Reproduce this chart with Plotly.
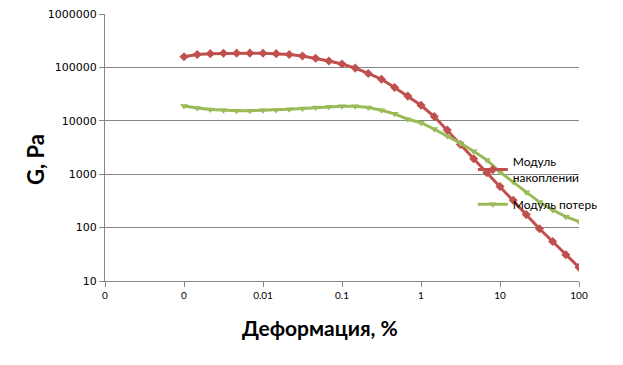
import plotly.graph_objects as go

strain = [0.001, 0.00147, 0.00215, 0.00316, 0.00464, 0.00681, 0.01, 0.0147, 0.0215, 0.0316,
          0.0464, 0.0681, 0.1, 0.147, 0.215, 0.316, 0.464, 0.681, 1, 1.47, 2.15, 3.16,
          4.64, 6.81, 10, 14.7, 21.5, 31.6, 46.4, 68.1, 100]
g_storage = [158000, 174000, 181000, 184000, 185000, 185000, 184000, 181000, 174000, 163000,
             148000, 132000, 116000, 97000, 77000, 60000, 42000, 29000, 19500, 12000, 6700, 3600,
             1950, 1070, 590, 325, 175, 95, 55, 31, 18]
g_loss = [19000, 17300, 16300, 15800, 15500, 15500, 15700, 15900, 16400, 17000,
          17700, 18400, 18700, 18700, 17800, 15800, 13500, 10700, 9200, 7000, 5200, 3800,
          2700, 1850, 1100, 720, 460, 300, 213, 160, 130]

x_tickvals = [0.0001, 0.001, 0.01, 0.1, 1, 10, 100]
x_ticktext = ["0", "0", "0.01", "0.1", "1", "10", "100"]
y_tickvals = [10, 100, 1000, 10000, 100000, 1000000]
y_ticktext = ["10", "100", "1000", "10000", "100000", "1000000"]

fig = go.Figure()
fig.add_trace(go.Scatter(x=strain, y=g_storage, mode="lines+markers",
                         name="Модуль<br>накоплений", legendgroup="a",
                         line=dict(color="#C0504D", width=3),
                         marker=dict(symbol="diamond", size=7, color="#C0504D")))
fig.add_trace(go.Scatter(x=strain, y=g_loss, mode="lines+markers",
                         name="Модуль потерь", legendgroup="b",
                         line=dict(color="#9BBB59", width=3),
                         marker=dict(symbol="triangle-down", size=7, color="#9BBB59")))

axis_col = "#868686"
fig.update_layout(
    width=623, height=365,
    margin=dict(l=105, r=44, t=14, b=84),
    paper_bgcolor="white", plot_bgcolor="white",
    font=dict(family="Lato", size=11, color="#000000"),
    showlegend=True,
    legend=dict(x=0.776, y=0.50, xanchor="left", yanchor="top",
                bgcolor="rgba(0,0,0,0)", font=dict(family="Lato", size=12),
                tracegroupgap=8),
    xaxis=dict(type="log", range=[-4, 2], tickvals=x_tickvals, ticktext=x_ticktext,
               showgrid=False, showline=True, linecolor=axis_col, linewidth=1,
               ticks="outside", ticklen=5, tickcolor=axis_col,
               tickfont=dict(family="Lato", size=10),
               zeroline=False, automargin=False),
    yaxis=dict(type="log", range=[1, 6], tickvals=y_tickvals, ticktext=y_ticktext,
               showgrid=True, gridcolor=axis_col, gridwidth=1,
               showline=True, linecolor=axis_col, linewidth=1,
               ticks="outside", ticklen=5, tickcolor=axis_col,
               tickfont=dict(family="DejaVu Sans", size=11),
               zeroline=False, automargin=False),
    annotations=[
        dict(text="<b>Деформация, %</b>", xref="paper", yref="paper",
             x=(320 - 105) / 474, y=-(327 - 281) / 267, xanchor="center", yanchor="middle",
             showarrow=False, font=dict(family="Lato", size=21)),
        dict(text="<b>G, Pa</b>", xref="paper", yref="paper",
             x=-(105 - 35) / 474, y=(281 - 160) / 267, xanchor="center", yanchor="middle",
             textangle=-90, showarrow=False, font=dict(family="Lato", size=22)),
    ],
)

fig.write_html("out.html")
